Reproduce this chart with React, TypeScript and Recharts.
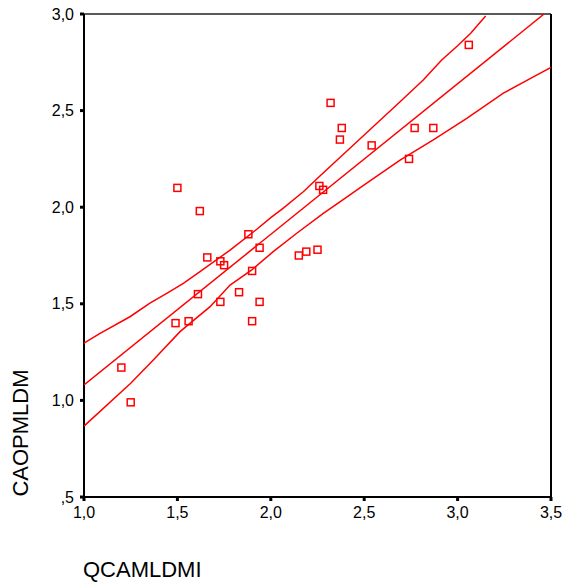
import React from 'react';
import { ScatterChart, Scatter, XAxis, YAxis, ReferenceLine, Label } from 'recharts';

// Observed points (QCAMLDMI, CAOPMLDM)
const qcamldmi = [1.50, 1.62, 2.32, 2.38, 2.37, 2.54, 3.06, 2.77, 2.87, 2.74, 2.26, 2.28, 1.88, 1.66, 1.73,
  1.75, 1.94, 1.90, 1.61, 1.83, 1.73, 1.94, 1.49, 1.56, 1.90, 2.15, 2.19, 2.25, 1.20, 1.25];
const caopmldm = [2.10, 1.98, 2.54, 2.41, 2.35, 2.32, 2.84, 2.41, 2.41, 2.25, 2.11, 2.09, 1.86, 1.74, 1.72,
  1.70, 1.79, 1.67, 1.55, 1.56, 1.51, 1.51, 1.40, 1.41, 1.41, 1.75, 1.77, 1.78, 1.17, 0.99];

// Fitted regression line
const fitX = [1.0, 3.463];
const fitY = [1.08, 3.0];

// Confidence band curves
const upperX = [1.0, 1.086, 1.246, 1.353, 1.443, 1.532, 1.621, 1.782, 1.925, 2.0, 2.067, 2.174, 2.25, 2.5, 2.692, 2.816, 2.915, 3.0, 3.07, 3.15];
const upperY = [1.296, 1.347, 1.433, 1.503, 1.554, 1.606, 1.666, 1.778, 1.886, 1.946, 1.995, 2.08, 2.15, 2.374, 2.546, 2.658, 2.762, 2.836, 2.9, 2.99];
const lowerX = [1.0, 1.25, 1.371, 1.514, 1.675, 1.782, 1.898, 2.013, 2.139, 2.281, 2.37, 2.5, 2.692, 2.87, 3.049, 3.245, 3.423, 3.5];
const lowerY = [0.867, 1.089, 1.209, 1.356, 1.485, 1.597, 1.675, 1.77, 1.865, 1.968, 2.028, 2.115, 2.244, 2.348, 2.46, 2.59, 2.684, 2.724];

const xTicks = [1, 1.5, 2, 2.5, 3, 3.5];
const yTicks = [0.5, 1, 1.5, 2, 2.5, 3];

const points = qcamldmi.map((x, i) => ({ x, y: caopmldm[i] }));
const fitLine = fitX.map((x, i) => ({ x, y: fitY[i] }));
const upperBand = upperX.map((x, i) => ({ x, y: upperY[i] }));
const lowerBand = lowerX.map((x, i) => ({ x, y: lowerY[i] }));

const RED = '#ff0000';
const FONT = '"Liberation Sans", Arial, sans-serif';

const fmt = (v: number) => {
  const s = v.toFixed(1).replace('.', ',');
  return s.startsWith('0') ? s.slice(1) : s;
};

const SquareShape = (props: any) => {
  const { cx, cy } = props;
  if (cx == null || cy == null) return <g />;
  return <rect x={cx - 3.5} y={cy - 3.5} width={7} height={7} fill="none" stroke={RED} strokeWidth={1.5} />;
};

const NoShape = () => <g />;

export default function App() {
  return (
    <div style={{ width: 566, height: 583 }}>
      <style>{'html,body{margin:0;padding:0;overflow:hidden;}'}</style>
      <ScatterChart width={566} height={583} margin={{ top: 14, right: 15, left: 8, bottom: 0 }}>
        <XAxis
          type="number"
          dataKey="x"
          domain={[1, 3.5]}
          ticks={xTicks}
          allowDataOverflow
          tickFormatter={fmt}
          height={86}
          axisLine={{ stroke: '#000', strokeWidth: 2 }}
          tickLine={{ stroke: '#000', strokeWidth: 3 }}
          tickSize={4}
          tickMargin={6}
          tick={{ fill: '#000', fontSize: 16, fontFamily: FONT }}
        >
          <Label
            content={() => (
              <text x={83} y={577} fontSize={22} fontFamily={FONT} fill="#000" textAnchor="start">
                QCAMLDMI
              </text>
            )}
          />
        </XAxis>
        <YAxis
          type="number"
          dataKey="y"
          domain={[0.5, 3]}
          ticks={yTicks}
          allowDataOverflow
          tickFormatter={fmt}
          width={76}
          axisLine={{ stroke: '#000', strokeWidth: 2 }}
          tickLine={{ stroke: '#000', strokeWidth: 3 }}
          tickSize={4}
          tickMargin={6}
          tick={{ fill: '#000', fontSize: 16, fontFamily: FONT }}
        >
          <Label
            content={() => (
              <text
                x={20}
                y={433}
                fontSize={22}
                fontFamily={FONT}
                fill="#000"
                textAnchor="middle"
                dominantBaseline="central"
                transform="rotate(-90 20 433)"
              >
                CAOPMLDM
              </text>
            )}
          />
        </YAxis>
        <ReferenceLine y={3} stroke="#222" strokeWidth={1.5} />
        <ReferenceLine x={3.5} stroke="#000" strokeWidth={2} />
        <Scatter data={upperBand} line={{ stroke: RED, strokeWidth: 1.5 }} shape={NoShape} isAnimationActive={false} legendType="none" />
        <Scatter data={fitLine} line={{ stroke: RED, strokeWidth: 1.5 }} shape={NoShape} isAnimationActive={false} legendType="none" />
        <Scatter data={lowerBand} line={{ stroke: RED, strokeWidth: 1.5 }} shape={NoShape} isAnimationActive={false} legendType="none" />
        <Scatter data={points} shape={SquareShape} isAnimationActive={false} legendType="none" />
      </ScatterChart>
    </div>
  );
}
